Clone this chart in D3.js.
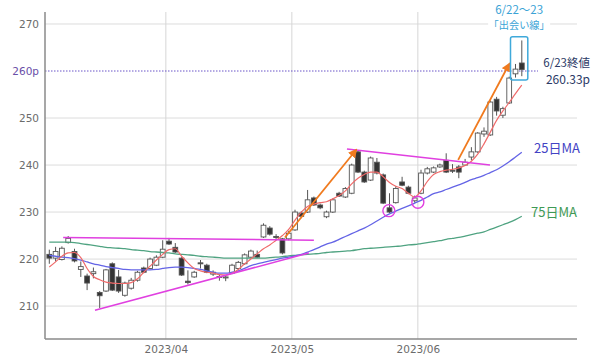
<!DOCTYPE html>
<html><head><meta charset="utf-8">
<script src="https://cdn.jsdelivr.net/npm/d3@7"></script>
<style>body{margin:0;background:#fff}</style>
</head><body><svg id="c" width="600" height="360"></svg>
<script>
// ---- data ----
const dates = ["3/6","3/7","3/8","3/9","3/10","3/13","3/14","3/15","3/16","3/17","3/20","3/22","3/23","3/24","3/27","3/28","3/29","3/30","3/31",
"4/3","4/4","4/5","4/6","4/7","4/10","4/11","4/12","4/13","4/14","4/17","4/18","4/19","4/20","4/21","4/24","4/25","4/26","4/27","4/28",
"5/1","5/2","5/8","5/9","5/10","5/11","5/12","5/15","5/16","5/17","5/18","5/19","5/22","5/23","5/24","5/25","5/26","5/29","5/30","5/31",
"6/1","6/2","6/5","6/6","6/7","6/8","6/9","6/12","6/13","6/14","6/15","6/16","6/19","6/20","6/21","6/22","6/23"];
const openP = [221.0,220.2,219.9,223.5,221.6,217.8,216.4,216.9,212.9,213.2,219.0,216.2,212.3,213.8,215.5,218.1,218.0,218.7,220.4,
223.8,222.5,220.2,215.3,216.2,219.2,218.7,216.8,216.1,216.0,217.0,218.0,219.0,220.4,221.0,224.7,226.6,224.8,224.3,224.3,
226.2,229.8,230.0,233.0,231.5,229.0,230.0,234.0,233.2,234.0,242.8,238.5,236.8,240.6,237.9,230.9,232.0,236.4,235.3,232.4,
234.0,238.3,238.5,239.6,241.0,238.9,239.6,240.0,241.7,242.8,246.6,246.4,254.0,250.6,253.2,259.4,261.7];
const highP = [222.0,222.6,222.7,224.9,222.2,219.5,216.9,218.2,213.2,217.9,219.3,217.7,215.2,216.0,217.5,218.4,220.3,220.8,224.0,
224.5,223.4,220.4,217.6,217.5,219.8,219.0,217.6,216.8,216.6,219.0,219.6,221.2,222.0,221.8,227.6,227.0,225.3,224.5,226.0,
230.5,230.2,234.7,233.3,231.8,230.3,232.9,234.3,235.3,240.3,243.0,238.8,241.8,241.5,238.2,234.0,235.5,237.5,235.6,233.5,
239.0,239.6,239.7,240.3,242.5,240.2,240.0,241.3,243.8,247.0,248.0,253.7,254.5,252.4,258.8,261.5,266.5];
const lowP = [219.0,219.5,219.7,223.3,219.3,216.2,213.4,215.9,209.6,213.0,213.2,212.8,212.0,213.5,215.2,217.0,217.8,218.5,220.2,
223.0,221.3,216.4,214.6,216.0,218.0,217.0,216.4,215.4,215.3,216.8,217.8,218.8,220.2,220.2,224.5,225.0,224.2,221.0,224.0,
226.0,228.7,229.8,231.3,230.6,228.7,229.8,233.2,233.0,233.8,238.3,236.2,236.6,238.0,231.7,229.8,231.8,235.5,233.8,232.0,
233.8,238.0,238.3,239.4,238.3,238.3,237.2,239.8,241.0,242.6,246.0,246.2,250.5,250.0,253.0,258.6,258.9];
const closeP = [220.2,221.6,222.3,224.4,219.6,218.4,214.9,217.3,212.2,217.7,213.4,213.2,214.9,215.5,217.2,217.2,220.0,220.4,222.1,
223.2,221.5,216.6,215.0,217.2,219.0,217.2,217.2,216.3,216.2,218.7,219.3,220.9,221.7,220.4,227.2,225.3,224.6,221.3,225.5,
230.0,229.1,232.6,231.5,230.9,230.0,232.6,233.4,235.0,240.0,238.5,236.4,241.5,238.3,231.9,230.0,235.0,235.7,234.0,233.0,
238.3,239.2,239.4,240.0,238.5,238.7,238.5,240.6,242.8,246.8,247.2,253.4,251.5,252.0,258.5,260.4,260.33];
const ma5 = [218.3,219.4,220.6,221.3,221.4,220.3,218.0,216.3,215.6,215.1,214.9,214.8,214.8,215.0,215.8,217.2,218.5,219.8,221.0,
222.0,222.2,220.6,219.2,218.0,217.5,217.2,217.0,216.7,216.6,217.0,217.8,219.0,220.0,221.1,222.2,223.0,224.0,225.0,226.3,
228.3,230.0,231.2,231.7,232.0,232.2,232.8,233.5,234.5,236.0,237.2,238.0,238.5,238.5,237.5,236.3,235.5,235.0,234.0,233.2,
234.5,236.5,238.0,238.6,238.9,239.1,239.4,239.9,240.8,242.3,244.5,247.0,249.5,251.5,253.3,255.2,257.0];
const ma25 = [220.8,220.6,220.4,220.3,220.1,219.8,219.4,219.0,218.7,218.4,218.2,218.0,217.8,217.7,217.7,217.7,217.7,217.8,218.0,
218.2,218.3,218.3,218.2,218.0,217.8,217.5,217.2,217.0,217.0,217.2,217.5,218.0,218.6,219.0,219.3,219.6,219.9,220.2,220.4,
220.7,221.0,221.5,222.0,222.6,223.2,223.6,224.2,224.8,225.4,226.0,226.6,227.3,228.1,228.9,229.6,230.2,230.8,231.3,231.9,
232.5,233.2,233.9,234.3,234.8,235.3,235.8,236.3,236.9,237.3,237.8,238.4,239.0,239.8,240.7,241.7,242.7];
const ma75 = [223.6,223.6,223.6,223.6,223.5,223.3,223.1,222.9,222.7,222.5,222.4,222.3,222.2,222.0,221.9,221.8,221.6,221.5,221.4,
221.3,221.1,221.0,220.9,220.8,220.6,220.5,220.4,220.3,220.2,220.2,220.2,220.2,220.2,220.2,220.2,220.3,220.4,220.5,220.7,
220.8,220.9,221.0,221.1,221.2,221.4,221.5,221.6,221.7,221.8,222.0,222.2,222.3,222.4,222.5,222.6,222.7,222.8,223.0,223.1,
223.3,223.5,223.7,223.9,224.2,224.4,224.6,224.9,225.2,225.5,225.8,226.3,226.8,227.3,227.8,228.4,229.1];
const yTicks = [210,220,230,240,250,260,270];
const refLevel = 260;
const monthLabels = ["2023/04","2023/05","2023/06"];
const monthFirstIdx = [19,39,59];
// annotation lines: [index0, price0, index1, price1]
const trendLines = [[2.2,224.6,42.0,224.0],[7.25,209.1,41.2,221.3],[47.25,243.4,69.95,240.0]];
const arrows = [[37.4,224.6,48.7,243.2],[64.9,241.1,73.0,261.5]];
const circles = [[53.9,230.3],[58.5,232.1]];
const boxSpan = [74,75,267.3,258.1];
const boxTitle = ["6/22～23","「出会い線」"];
const closeNote = ["6/23終値","260.33p"];
const maLabels = [["25日MA",242.7],["75日MA",229.1]];

// ---- drawing ----
const svg = d3.select("#c");
const L = 45, R = 577, T = 12, B = 339;
const x = d3.scaleLinear().domain([0, 75]).range([49.3, 521.8]);
const y = d3.scaleLinear().domain([203, 272.55]).range([B, T]);
const step = x(1) - x(0);
const N = dates.length;
const idx = d3.range(N);

// gridlines
svg.append("g").selectAll("line").data(yTicks.filter(v => v !== refLevel)).join("line")
  .attr("x1", L).attr("x2", R).attr("y1", d => y(d)).attr("y2", d => y(d))
  .attr("stroke", "#dcdcdc").attr("stroke-width", 1);
svg.append("g").selectAll("line").data(monthFirstIdx).join("line")
  .attr("x1", d => x(d - 0.5)).attr("x2", d => x(d - 0.5)).attr("y1", T).attr("y2", B)
  .attr("stroke", "#d6d6d6").attr("stroke-width", 1);

// reference dotted line
svg.append("line").attr("x1", L).attr("x2", 538).attr("y1", y(refLevel)).attr("y2", y(refLevel))
  .attr("stroke", "#6a55c8").attr("stroke-width", 1).attr("stroke-dasharray", "1.5,1.5");

// y axis
const yAxis = d3.axisLeft(y).tickValues(yTicks).tickSize(0).tickPadding(6)
  .tickFormat(d => d === refLevel ? d + "p" : d);
const gy = svg.append("g").attr("transform", `translate(${L},0)`).call(yAxis);
gy.select(".domain").remove();
gy.selectAll("text").attr("font-family", "DejaVu Sans, Verdana, sans-serif").attr("font-size", 10.5)
  .attr("fill", d => d === refLevel ? "#6a4fa8" : "#6b6b6b");

// x axis
const xAxis = d3.axisBottom(x).tickValues(monthFirstIdx.map(d => d - 0.5)).tickSize(0).tickPadding(7)
  .tickFormat((d, i) => monthLabels[i]);
const gx = svg.append("g").attr("transform", `translate(0,${B})`).call(xAxis);
gx.select(".domain").remove();
gx.selectAll("text").attr("font-family", "DejaVu Sans, Verdana, sans-serif").attr("font-size", 10.5).attr("fill", "#6b6b6b");

// axis lines
svg.append("line").attr("x1", L).attr("x2", L).attr("y1", T).attr("y2", B).attr("stroke", "#8a8a8a").attr("stroke-width", 1.5);
svg.append("line").attr("x1", L).attr("x2", R).attr("y1", B).attr("y2", B).attr("stroke", "#8a8a8a").attr("stroke-width", 1.5);

// clip
svg.append("clipPath").attr("id", "clip").append("rect").attr("x", L + 1).attr("y", T).attr("width", R - L).attr("height", B - T);
const plot = svg.append("g").attr("clip-path", "url(#clip)");

// candles
const bw = step * 0.76;
const cg = plot.append("g");
cg.selectAll("line.w").data(idx).join("line").attr("class", "w")
  .attr("x1", i => x(i)).attr("x2", i => x(i)).attr("y1", i => y(highP[i])).attr("y2", i => y(lowP[i]))
  .attr("stroke", "#555").attr("stroke-width", 1);
cg.selectAll("rect").data(idx).join("rect")
  .attr("x", i => x(i) - bw / 2).attr("width", bw)
  .attr("y", i => y(Math.max(openP[i], closeP[i])))
  .attr("height", i => Math.max(1, Math.abs(y(openP[i]) - y(closeP[i]))))
  .attr("fill", i => closeP[i] >= openP[i] ? "#fff" : "#333")
  .attr("stroke", "#555").attr("stroke-width", 0.9);

// moving averages
const lineGen = arr => d3.line().x(i => x(i)).y(i => y(arr[i])).curve(d3.curveMonotoneX)(idx);
plot.append("path").attr("d", lineGen(ma75)).attr("fill", "none").attr("stroke", "#4fa381").attr("stroke-width", 1.3);
plot.append("path").attr("d", lineGen(ma25)).attr("fill", "none").attr("stroke", "#6464e6").attr("stroke-width", 1.3);
plot.append("path").attr("d", lineGen(ma5)).attr("fill", "none").attr("stroke", "#f06a6a").attr("stroke-width", 1.2);

// trend lines
plot.append("g").selectAll("line").data(trendLines).join("line")
  .attr("x1", d => x(d[0])).attr("y1", d => y(d[1])).attr("x2", d => x(d[2])).attr("y2", d => y(d[3]))
  .attr("stroke", "#e040e0").attr("stroke-width", 1.5);

// arrows
svg.append("defs").append("marker").attr("id", "ah").attr("viewBox", "0 0 10 10").attr("refX", 8).attr("refY", 5)
  .attr("markerWidth", 5).attr("markerHeight", 5).attr("orient", "auto")
  .append("path").attr("d", "M0,0L10,5L0,10z").attr("fill", "#f07a1e");
plot.append("g").selectAll("line").data(arrows).join("line")
  .attr("x1", d => x(d[0])).attr("y1", d => y(d[1])).attr("x2", d => x(d[2])).attr("y2", d => y(d[3]))
  .attr("stroke", "#f07a1e").attr("stroke-width", 1.8).attr("marker-end", "url(#ah)");

// circles
plot.append("g").selectAll("circle").data(circles).join("circle")
  .attr("cx", d => x(d[0])).attr("cy", d => y(d[1])).attr("r", 6)
  .attr("fill", "none").attr("stroke", "#e040e0").attr("stroke-width", 1.4);

// box
svg.append("rect").attr("x", x(boxSpan[0]) - 5).attr("width", x(boxSpan[1]) - x(boxSpan[0]) + 11)
  .attr("y", y(boxSpan[2])).attr("height", y(boxSpan[3]) - y(boxSpan[2])).attr("rx", 2)
  .attr("fill", "none").attr("stroke", "#3fa9da").attr("stroke-width", 1.5);

// box title with white background
const bx = x(boxSpan[0]) + (x(boxSpan[1]) - x(boxSpan[0])) / 2 + 0.5;
svg.append("rect").attr("x", bx - 31).attr("y", y(270) - 7).attr("width", 62).attr("height", 13).attr("fill", "#fff");
svg.append("text").attr("x", bx).attr("y", 14).attr("text-anchor", "middle")
  .attr("font-family", "Noto Sans CJK JP, sans-serif").attr("font-size", 11.5).attr("fill", "#3aa3d6").text(boxTitle[0]);
svg.append("text").attr("x", bx).attr("y", 28.5).attr("text-anchor", "middle")
  .attr("font-family", "Noto Sans CJK JP, sans-serif").attr("font-size", 10.2).attr("fill", "#3aa3d6").text(boxTitle[1]);

// close note
svg.append("text").attr("x", 590).attr("y", 67).attr("text-anchor", "end")
  .attr("font-family", "Noto Sans CJK JP, sans-serif").attr("font-size", 11.5).attr("fill", "#2c3a66").text(closeNote[0]);
svg.append("text").attr("x", 590).attr("y", 84).attr("text-anchor", "end")
  .attr("font-family", "Noto Sans CJK JP, sans-serif").attr("font-size", 12).attr("fill", "#2c3a66").text(closeNote[1]);

// MA labels
const maColors = ["#4343c4", "#3f9a55"];
svg.append("g").selectAll("text").data(maLabels).join("text")
  .attr("x", (d, i) => i === 0 ? 534 : 531).attr("y", d => y(d[1]) + 1)
  .attr("font-family", "Noto Sans CJK JP, sans-serif").attr("font-size", 13)
  .attr("fill", (d, i) => maColors[i]).text(d => d[0]);
</script>
</body></html>
